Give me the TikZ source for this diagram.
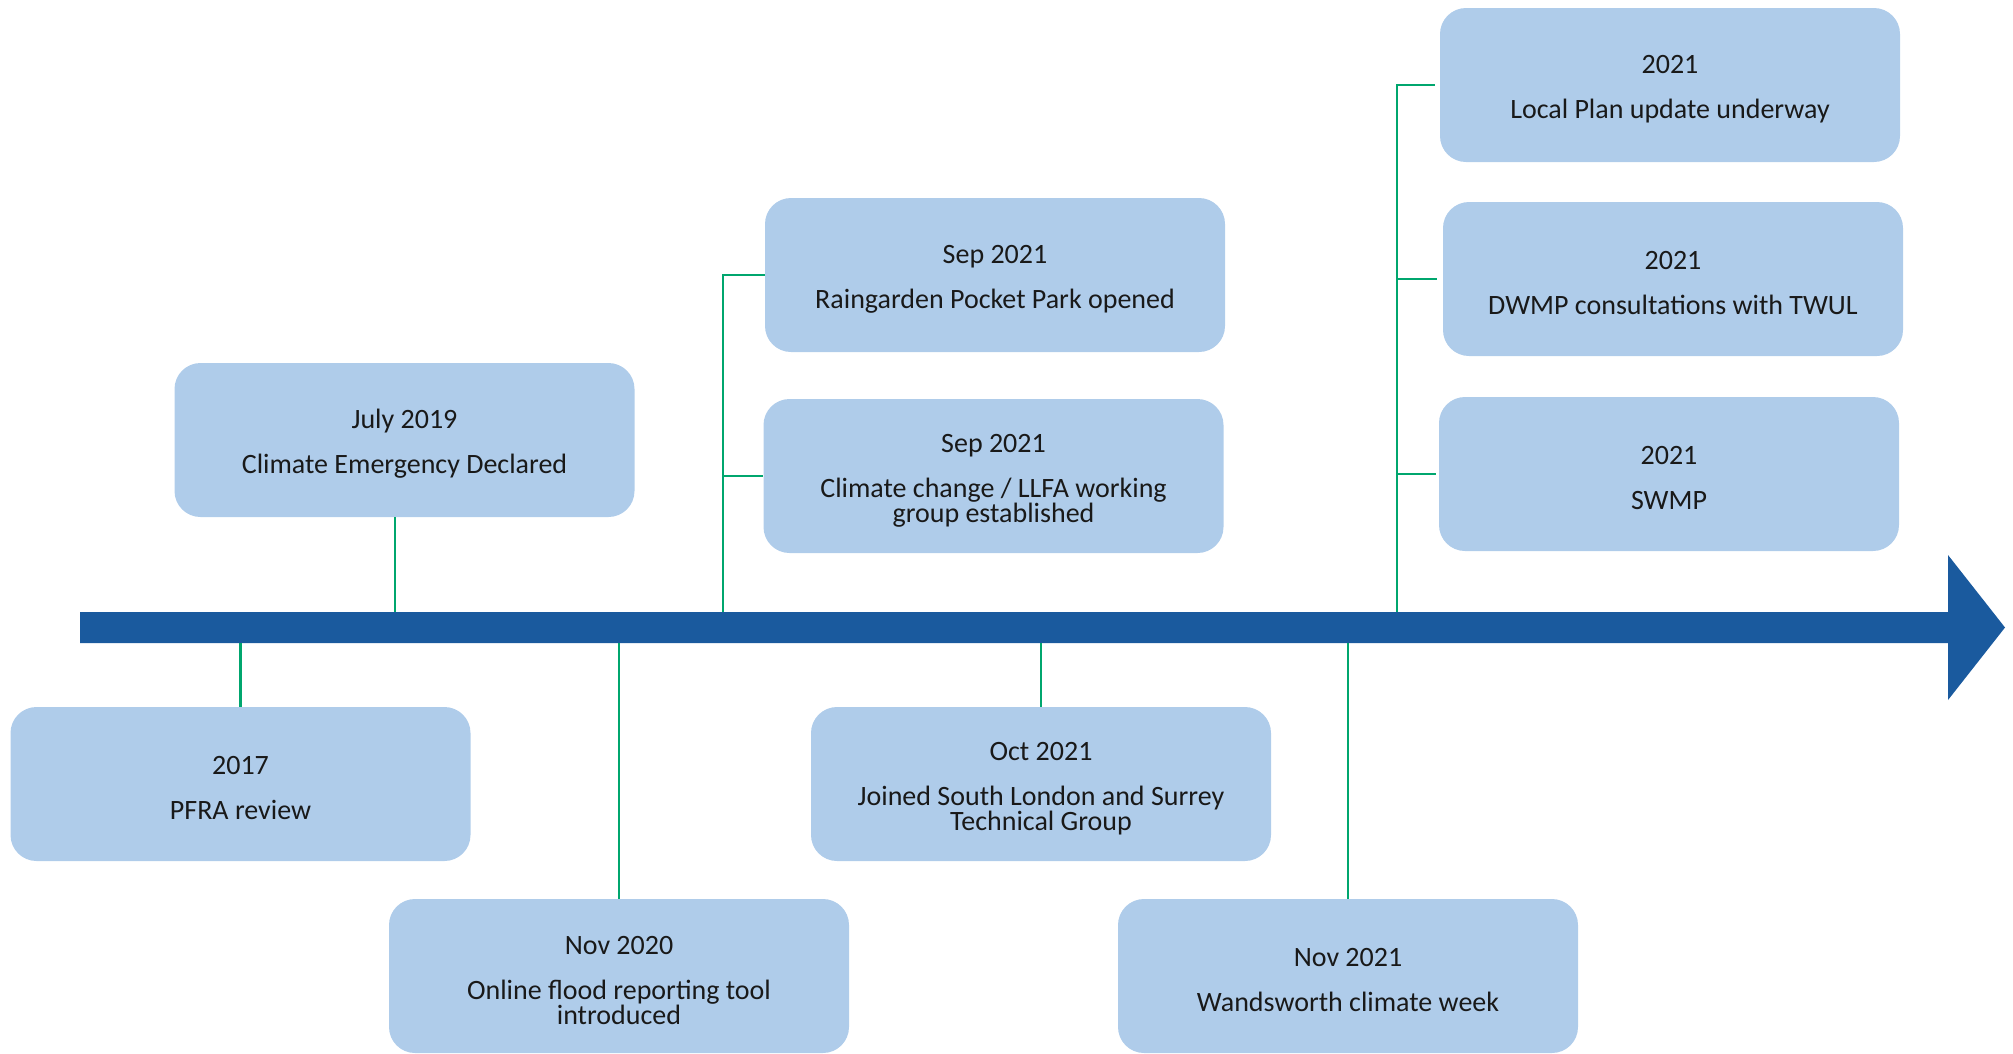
\documentclass[tikz,border=0pt]{standalone}
\usepackage{fontspec}
\setmainfont{Carlito}
\definecolor{boxfill}{HTML}{AFCCEA}
\definecolor{axisblue}{HTML}{1A5A9E}
\definecolor{linkgreen}{HTML}{00A66E}
\newcommand\evtop{\rule{0pt}{27pt}}
\begin{document}
\begin{tikzpicture}[x=1pt,y=-1pt,
  evbox/.style={fill=boxfill, draw=none, rounded corners=26pt, minimum width=460pt,
    minimum height=154pt, align=center, font=\fontsize{28}{25}\selectfont,
    text=black!90, inner sep=0pt},
  link/.style={draw=linkgreen, line width=2.6pt}]
\useasboundingbox (0,0) rectangle (2013,1053);
% timeline arrow
\fill[axisblue] (80,612) -- (1948,612) -- (1948,555) -- (2005,627.5) -- (1948,700)
  -- (1948,643) -- (80,643) -- cycle;
\coordinate (axT) at (0,612);
\coordinate (axB) at (0,643);
% boxes
\node[evbox] (b1) at (240.5,784) {\evtop 2017\\[20pt]PFRA review};
\node[evbox] (b2) at (404.5,440) {\evtop July 2019\\[20pt]Climate Emergency Declared};
\node[evbox] (b3) at (619,976) {\evtop Nov 2020\\[20pt]Online flood reporting tool\\introduced};
\node[evbox] (b4) at (995,275) {\evtop Sep 2021\\[20pt]Raingarden Pocket Park opened};
\node[evbox] (b5) at (993.5,476) {\evtop Sep 2021\\[20pt]Climate change / LLFA working\\group established};
\node[evbox] (b6) at (1041,784) {\evtop Oct 2021\\[20pt]Joined South London and Surrey\\Technical Group};
\node[evbox] (b7) at (1348,976) {\evtop Nov 2021\\[20pt]Wandsworth climate week};
\node[evbox] (b8) at (1670,85) {\evtop 2021\\[20pt]Local Plan update underway};
\node[evbox] (b9) at (1673,279) {\evtop 2021\\[20pt]DWMP consultations with TWUL};
\node[evbox] (b10) at (1669,474) {\evtop 2021\\[20pt]SWMP};
% connectors
\coordinate (j2) at (395,612);
\coordinate (s) at (723,612);
\coordinate (t) at (1397,612);
\draw[link] (b1.north) -- (b1.north |- axB);
\draw[link] (b2.south -| j2) -- (j2);
\draw[link] (b3.north) -- (b3.north |- axB);
\draw[link] (b6.north) -- (b6.north |- axB);
\draw[link] (b7.north) -- (b7.north |- axB);
\draw[link] (b4.west) -- (b4.west -| s) -- (s);
\draw[link] (b5.west -| s) -- (b5.west);
\draw[link] ([xshift=-5pt]b8.west) -- (b8.west -| t) -- (t);
\draw[link] (b9.west -| t) -- ([xshift=-6pt]b9.west);
\draw[link] (b10.west -| t) -- ([xshift=-3pt]b10.west);
\end{tikzpicture}
\end{document}
